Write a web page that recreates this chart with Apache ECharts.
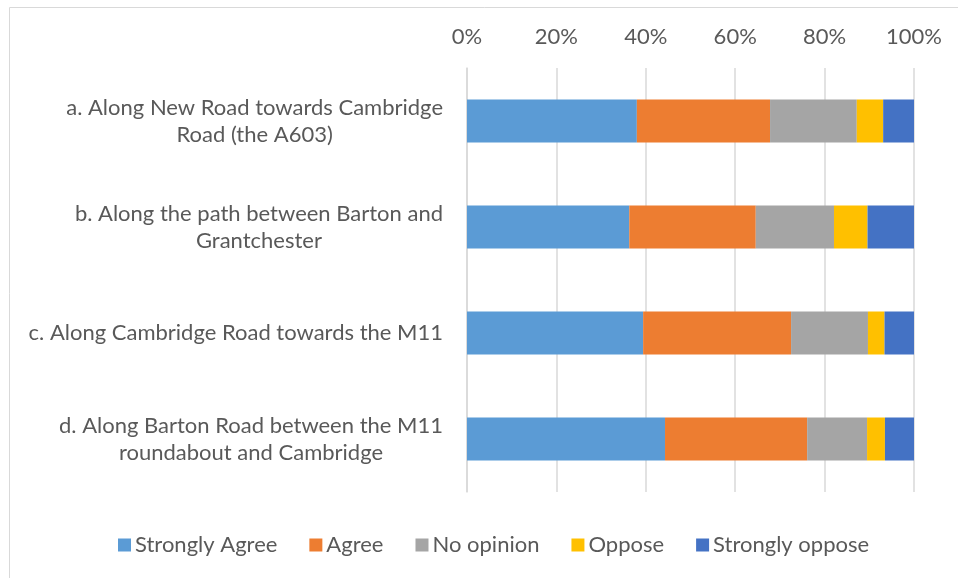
<!DOCTYPE html>
<html>
<head>
<meta charset="utf-8">
<script src="https://cdn.jsdelivr.net/npm/echarts@6/dist/echarts.min.js"></script>
<style>
  html, body { margin: 0; padding: 0; background: #fff; }
  #chart { width: 958px; height: 578px; }
</style>
</head>
<body>
<div id="chart"></div>
<script>
// categories (top to bottom)
const categories = [
  'a. Along New Road towards Cambridge\nRoad (the A603)',
  'b. Along the path between Barton and\nGrantchester',
  'c. Along Cambridge Road towards the M11',
  'd. Along Barton Road between the M11\nroundabout and Cambridge'
]
// percentages
const stronglyAgree  = [38.0, 36.3, 39.4, 44.3]
const agree          = [29.8, 28.3, 33.1, 31.8]
const noOpinion      = [19.4, 17.5, 17.2, 13.4]
const oppose         = [5.9, 7.5, 3.7, 4.0]
const stronglyOppose = [6.9, 10.4, 6.6, 6.5]

const seriesNames = ['Strongly Agree', 'Agree', 'No opinion', 'Oppose', 'Strongly oppose']
const seriesData = [stronglyAgree, agree, noOpinion, oppose, stronglyOppose]
const colors = ['#5B9BD5', '#ED7D31', '#A5A5A5', '#FFC000', '#4472C4']

const FONT = 'Lato'
const FS = 22
const TXT = '#595959'

const chart = echarts.init(document.getElementById('chart'))

const option = {
  animation: false,
  color: colors,
  textStyle: { fontFamily: FONT },
  graphic: [{
    type: 'rect',
    shape: { x: 9.5, y: 7.5, width: 1200, height: 1200 },
    style: { fill: 'none', stroke: '#D9D9D9', lineWidth: 1 },
    silent: true
  }],
  legend: {
    data: seriesNames,
    left: 113,
    top: 529,
    itemWidth: 13,
    itemHeight: 13,
    itemGap: 32,
    icon: 'rect',
    textStyle: { fontSize: FS, color: TXT, fontFamily: FONT, padding: [0, 0, 0, -1] }
  },
  grid: {
    left: 467,
    right: 44,
    top: 68,
    bottom: 86
  },
  xAxis: {
    type: 'value',
    position: 'top',
    min: 0,
    max: 100,
    interval: 20,
    axisLine: { show: false },
    axisTick: { show: false },
    axisLabel: { formatter: '{value}%', fontSize: FS, color: TXT, margin: 20 },
    splitLine: { lineStyle: { color: '#D9D9D9', width: 1.5 } }
  },
  yAxis: {
    type: 'category',
    inverse: true,
    data: categories,
    axisTick: { show: false },
    axisLine: { lineStyle: { color: '#D9D9D9', width: 1.5 } },
    axisLabel: {
      margin: 24,
      align: 'right',
      formatter: v => v.split('\n').map(s => '{c|' + s + '}').join('\n'),
      rich: {
        c: { align: 'center', fontSize: FS, color: TXT, fontFamily: FONT, lineHeight: 27 }
      }
    }
  },
  series: seriesNames.map((name, i) => ({
    name: name,
    type: 'bar',
    stack: 'total',
    barWidth: 43,
    data: seriesData[i]
  }))
}

chart.setOption(option)
</script>
</body>
</html>
